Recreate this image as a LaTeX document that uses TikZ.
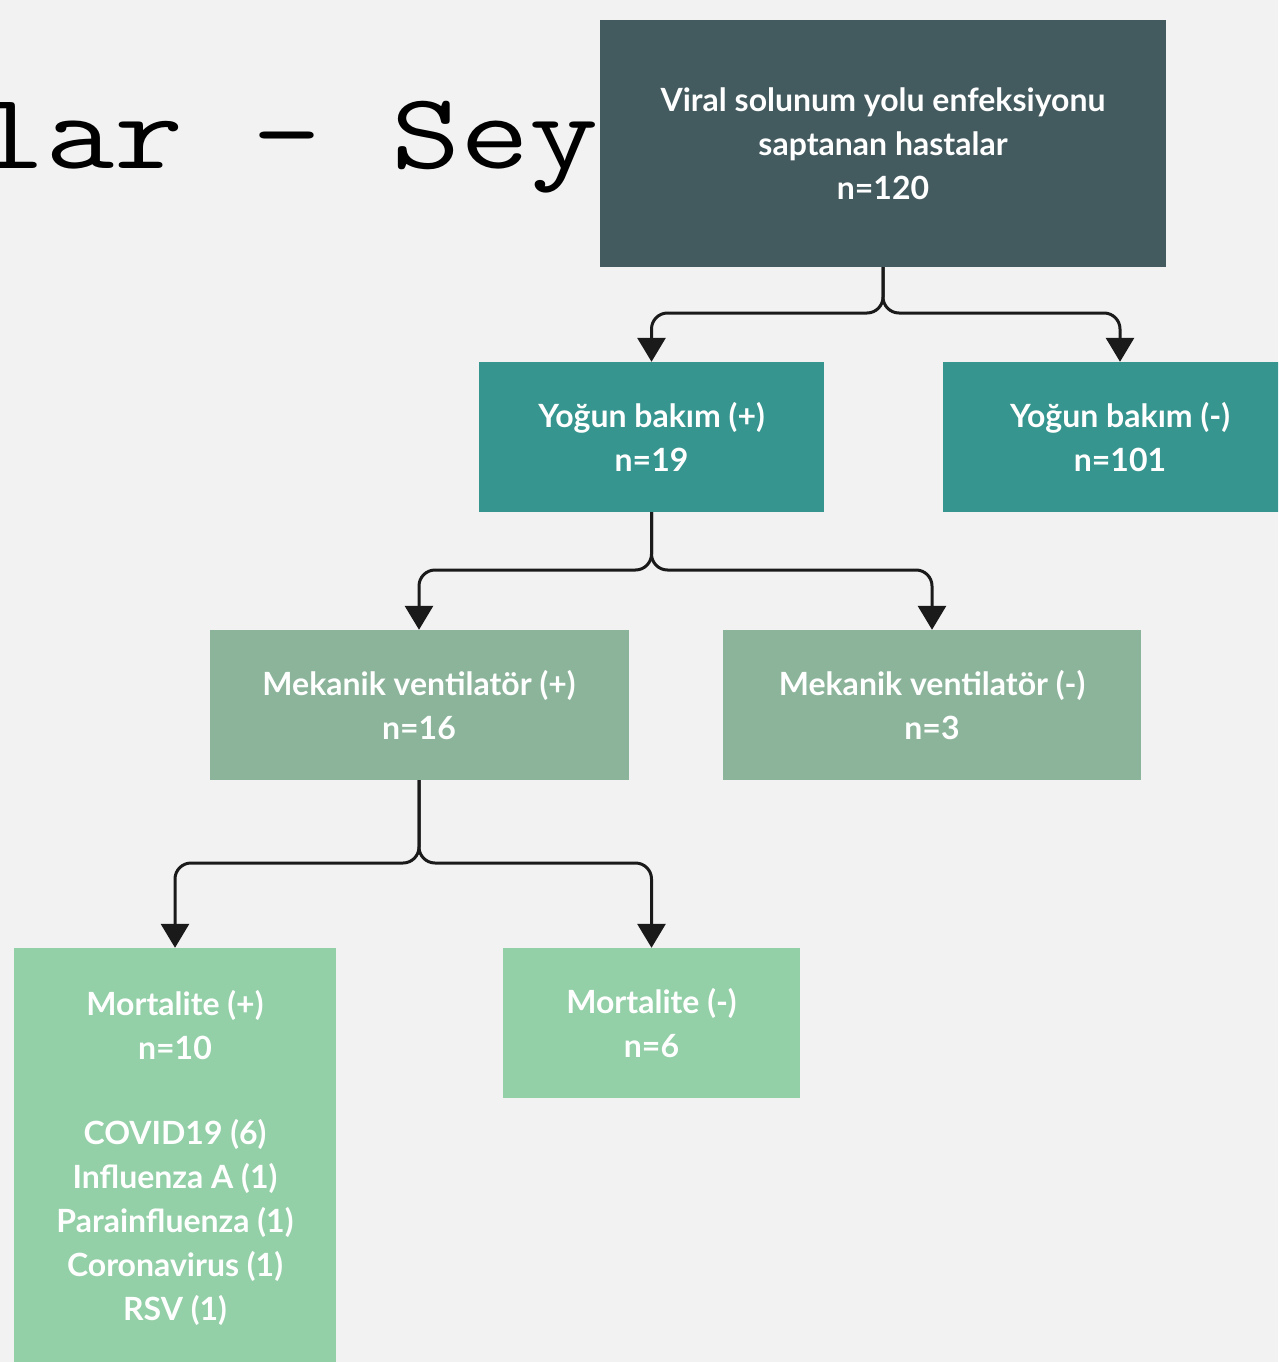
\documentclass[tikz,border=0pt]{standalone}
\usepackage{fontspec}
\setmainfont{Lato}
\usetikzlibrary{arrows.meta}
\definecolor{bg}{HTML}{F2F2F2}
\definecolor{cdark}{HTML}{435A5F}
\definecolor{cteal}{HTML}{37958F}
\definecolor{cmid}{HTML}{8BB49A}
\definecolor{clight}{HTML}{93CFA7}
\definecolor{cline}{HTML}{1A1A1A}
\tikzset{
  box/.style={rectangle, inner sep=0pt, align=center, text=white,
    font=\fontsize{32}{44}\selectfont\bfseries},
  conn/.style={draw=cline, line width=3pt, rounded corners=16pt,
    -{Triangle[width=28pt,length=24pt]}}
}
\begin{document}
\begin{tikzpicture}[x=1pt,y=-1pt]
\useasboundingbox (0,0) rectangle (1278,1362);
\clip (0,0) rectangle (1278,1362);
\fill[bg] (0,0) rectangle (1278,1362);
\node[anchor=base west, inner sep=0pt] (title) at (-23.75,168)
  {\scalebox{1.243}[1]{\ttfamily\fontsize{108}{110}\selectfont lar - Sey}};

\node[box, fill=cdark, minimum width=566, minimum height=247] (top) at (883,143.5)
  {Viral solunum yolu enfeksiyonu\\saptanan hastalar\\n=120};
\node[box, fill=cteal, minimum width=345, minimum height=150] (yp) at (651.5,437)
  {Yoğun bakım (+)\\n=19};
\node[box, fill=cteal, minimum width=354, minimum height=150] (yn) at (1120,437)
  {Yoğun bakım (-)\\n=101};
\node[box, fill=cmid, minimum width=419, minimum height=150] (mp) at (419,705)
  {Mekanik ventilatör (+)\\n=16};
\node[box, fill=cmid, minimum width=418, minimum height=150] (mn) at (932,705)
  {Mekanik ventilatör (-)\\n=3};
\node[box, fill=clight, minimum width=322, minimum height=420] (op) at (175,1158)
  {Mortalite (+)\\n=10\\[41pt]COVID19 (6)\\Influenza A (1)\\Parainfluenza (1)\\Coronavirus (1)\\RSV (1)};
\node[box, fill=clight, minimum width=297, minimum height=150] (on) at (651.5,1023)
  {Mortalite (-)\\n=6};

\coordinate (j1) at (883,313);
\coordinate (j2) at (651.5,570);
\coordinate (j3) at (419,863);
\draw[conn] (top.south) -- (j1) -| (yp.north);
\draw[conn] (top.south) -- (j1) -| (yn.north);
\draw[conn] (yp.south) -- (j2) -| (mp.north);
\draw[conn] (yp.south) -- (j2) -| (mn.north);
\draw[conn] (mp.south) -- (j3) -| (op.north);
\draw[conn] (mp.south) -- (j3) -| (on.north);
\end{tikzpicture}
\end{document}
